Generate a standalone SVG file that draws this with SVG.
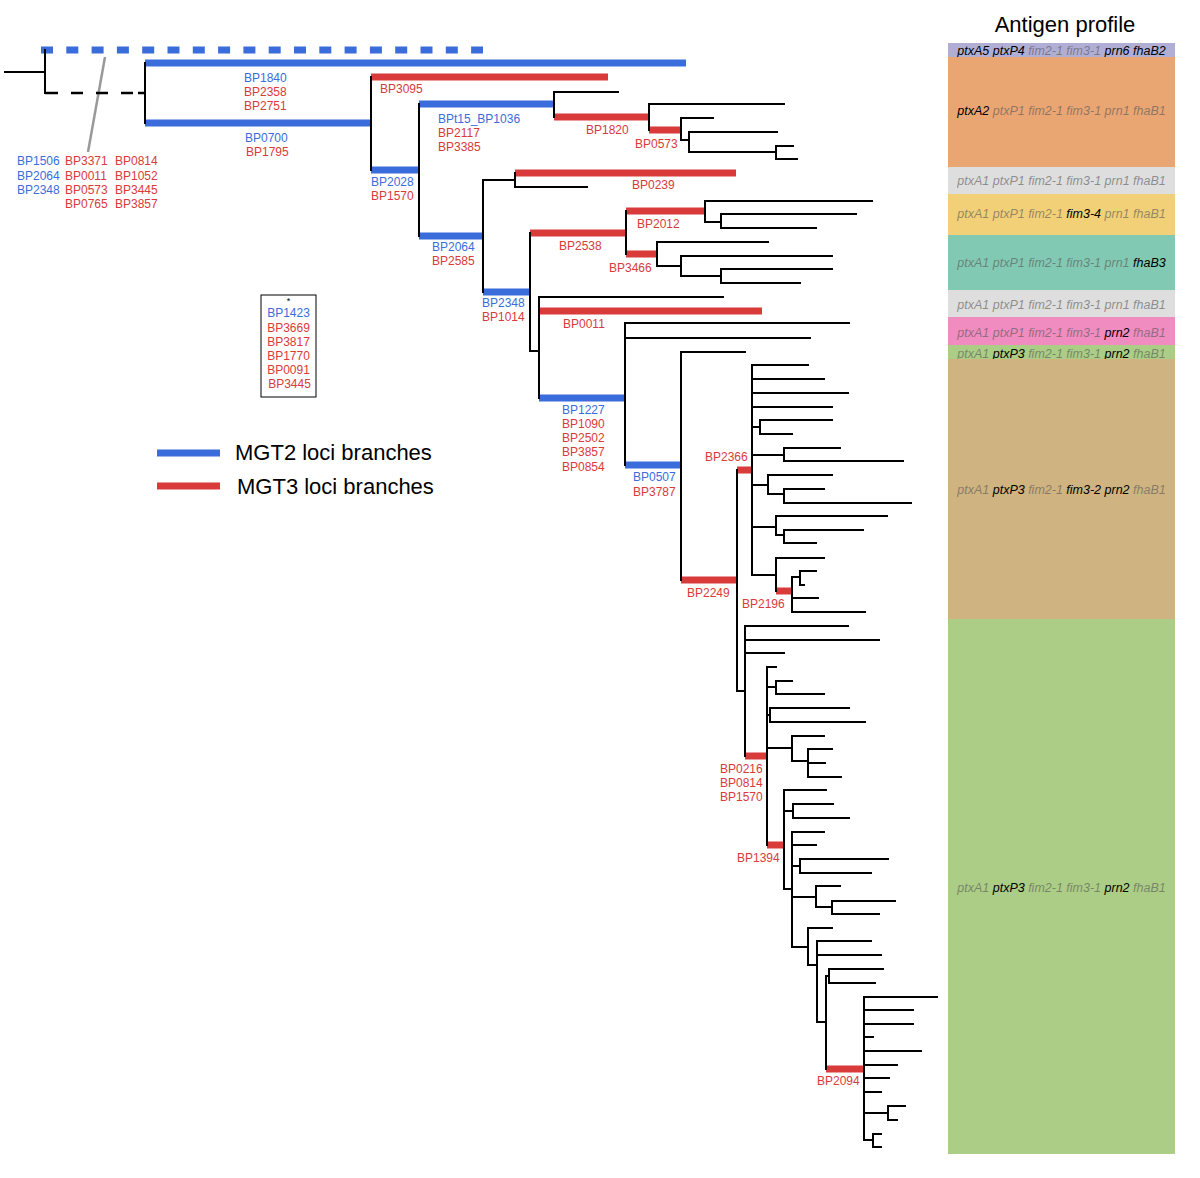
<svg xmlns="http://www.w3.org/2000/svg" width="1200" height="1178" viewBox="0 0 1200 1178">
<style>
.bk{stroke:#000;stroke-width:2;fill:none;stroke-linecap:square}
.bd{stroke:#000;stroke-width:2.5;fill:none;stroke-linecap:butt}
.mb{stroke:#3a6ddb;stroke-width:7;fill:none}
.mr{stroke:#d93a3a;stroke-width:7;fill:none}
text{font-family:"Liberation Sans",Arial,sans-serif}
.l{font-size:12px}
.lb{fill:#3a6ddb}
.lr{fill:#d93a3a}
.ag{font-size:12.5px;font-style:italic;text-anchor:middle}
.g{fill:#555;fill-opacity:0.6}
.k{fill:#000}
.big{font-size:22px;fill:#000}
</style>
<rect width="1200" height="1178" fill="#fff"/>

<g id="antigen-profile">
<text class="big" x="1065" y="32" text-anchor="middle">Antigen profile</text>
<g id="band1"><rect x="948" y="43" width="227" height="14" fill="#b1aed6"/><text class="ag" x="1061.5" y="54.5"><tspan class="k">ptxA5 ptxP4 </tspan><tspan class="g">fim2-1 fim3-1 </tspan><tspan class="k">prn6 fhaB2</tspan></text></g>
<g id="band2"><rect x="948" y="57" width="227" height="110" fill="#e9a673"/><text class="ag" x="1061.5" y="115"><tspan class="k">ptxA2 </tspan><tspan class="g">ptxP1 fim2-1 fim3-1 prn1 fhaB1</tspan></text></g>
<g id="band3"><rect x="948" y="167" width="227" height="27" fill="#dedede"/><text class="ag" x="1061.5" y="184.5"><tspan class="g">ptxA1 ptxP1 fim2-1 fim3-1 prn1 fhaB1</tspan></text></g>
<g id="band4"><rect x="948" y="194" width="227" height="41" fill="#f1d077"/><text class="ag" x="1061.5" y="217.5"><tspan class="g">ptxA1 ptxP1 fim2-1 </tspan><tspan class="k">fim3-4 </tspan><tspan class="g">prn1 fhaB1</tspan></text></g>
<g id="band5"><rect x="948" y="235" width="227" height="55" fill="#82c9b3"/><text class="ag" x="1061.5" y="266.5"><tspan class="g">ptxA1 ptxP1 fim2-1 fim3-1 prn1 </tspan><tspan class="k">fhaB3</tspan></text></g>
<g id="band6"><rect x="948" y="290" width="227" height="27" fill="#dedede"/><text class="ag" x="1061.5" y="308.5"><tspan class="g">ptxA1 ptxP1 fim2-1 fim3-1 prn1 fhaB1</tspan></text></g>
<g id="band7"><rect x="948" y="317" width="227" height="28" fill="#f08cc0"/><text class="ag" x="1061.5" y="336.5"><tspan class="g">ptxA1 ptxP1 fim2-1 fim3-1 </tspan><tspan class="k">prn2 </tspan><tspan class="g">fhaB1</tspan></text></g>
<g id="band8"><rect x="948" y="345" width="227" height="14" fill="#abcd85"/><text class="ag" x="1061.5" y="357.5"><tspan class="g">ptxA1 </tspan><tspan class="k">ptxP3 </tspan><tspan class="g">fim2-1 fim3-1 </tspan><tspan class="k">prn2 </tspan><tspan class="g">fhaB1</tspan></text></g>
<g id="band9"><rect x="948" y="359" width="227" height="260" fill="#cfb381"/><text class="ag" x="1061.5" y="493.5"><tspan class="g">ptxA1 </tspan><tspan class="k">ptxP3 </tspan><tspan class="g">fim2-1 </tspan><tspan class="k">fim3-2 prn2 </tspan><tspan class="g">fhaB1</tspan></text></g>
<g id="band10"><rect x="948" y="619" width="227" height="535" fill="#abcd85"/><text class="ag" x="1061.5" y="891.5"><tspan class="g">ptxA1 </tspan><tspan class="k">ptxP3 </tspan><tspan class="g">fim2-1 fim3-1 </tspan><tspan class="k">prn2 </tspan><tspan class="g">fhaB1</tspan></text></g>
</g>

<g id="connectors">
<path class="mb" stroke-dasharray="12 13.3" d="M41 50H483"/>
<path class="mb" d="M145 63H686M145 123H371M371 170H419M419 104H554M419 236H483M483 292H530M539 398H625M625 465H681"/>
<path class="mr" d="M371 77H608M554 117H649M649 130H681M515 173H736M530 233H626M626 211H705M626 254H657M539 311H762M681 580H737M737 470H752M776 591H792M745 756H767M767 845H784M826 1069H864"/>
<path d="M105 57L88 152" stroke="#999" stroke-width="2.5"/>
<path class="bd" d="M45 93H58M71 93H83M96 93H108M121 93H133M138 93H145"/>
<path class="bk" d="M5 72H45M45 50V93M145 63V123M371 77V170M419 104V236
M554 92V117M554 92H618M649 104V130M649 104H784M681 118V140M681 118H713M681 140H689M689 132V152M689 132H777M689 152H776M776 146V159M776 146H793M776 159H797
M483 180V292M483 180H515M515 173V187M515 187H587M530 233V351M530 351H539
M626 211V254M705 201V222M705 201H872M705 222H721M721 214V228M721 214H856M721 228H816
M657 242V266M657 242H768M657 266H681M681 256V276M681 256H832M681 276H721M721 269V283M721 269H832M721 283H800
M539 297V398M539 297H723M625 323V465M625 323H849M625 338H810
M681 352V580M681 352H745M737 470V691
M752 365V575M752 365H808M752 379H824M752 393H848M752 407H832
M752 427H760M760 420V434M760 420H832M760 434H792
M752 455H784M784 448V461M784 448H840M784 461H903
M752 485H768M768 475V494M768 475H832M768 494H784M784 489V503M784 489H824M784 503H911
M752 527H776M776 516V535M776 516H887M776 535H784M784 530V543M784 530H863M784 543H816
M752 575H776M776 558V591M776 558H824M792 577V612M792 577H800M800 571V585M800 571H816M800 585H804M792 598H818M792 612H865
M737 691H745M745 626V756M745 626H848M745 640H879M745 653H784
M767 667V845M767 667H776M767 687H776M776 681V694M776 681H792M776 694H824
M767 715H770M770 708V722M770 708H849M770 722H865
M767 748H792M792 736V761M792 736H824M792 761H808M808 749V777M808 749H832M808 763H825M808 777H841
M784 790V889M784 790H826M784 811H793M793 804V818M793 804H833M793 818H849
M784 889H792M792 832V947M792 832H824M792 845H816M792 866H800M800 859V873M800 859H888M800 873H871
M792 897H816M816 886V907M816 886H840M816 907H832M832 901V914M832 901H895M832 914H879
M792 947H808M808 928V965M808 928H832M808 965H817M817 941V1022M817 941H871M817 955H881M817 1022H826
M826 976V1069M826 976H829M829 969V983M829 969H883M829 983H875
M864 997V1140M864 997H937M864 1010H913M864 1024H913M864 1037H873M864 1051H921M864 1065H897M864 1078H889M864 1092H881
M864 1113H888M888 1106V1120M888 1106H905M888 1120H897M864 1140H873M873 1134V1147M873 1134H881M873 1147H881"/>
</g>

<g id="branch-labels" class="l">
<g id="lab-root">
<text class="lb" x="17" y="165">BP1506</text><text class="lb" x="17" y="180">BP2064</text><text class="lb" x="17" y="194">BP2348</text>
<text class="lr" x="65" y="165">BP3371</text><text class="lr" x="65" y="180">BP0011</text><text class="lr" x="65" y="194">BP0573</text><text class="lr" x="65" y="208">BP0765</text>
<text class="lr" x="115" y="165">BP0814</text><text class="lr" x="115" y="180">BP1052</text><text class="lr" x="115" y="194">BP3445</text><text class="lr" x="115" y="208">BP3857</text>
</g>
<g id="lab-1840"><text class="lb" x="244" y="82">BP1840</text><text class="lr" x="244" y="96">BP2358</text><text class="lr" x="244" y="110">BP2751</text></g>
<g id="lab-0700"><text class="lb" x="245" y="142">BP0700</text><text class="lr" x="246" y="156">BP1795</text></g>
<g id="lab-3095"><text class="lr" x="380" y="93">BP3095</text></g>
<g id="lab-2028"><text class="lb" x="371" y="186">BP2028</text><text class="lr" x="371" y="200">BP1570</text></g>
<g id="lab-1036"><text class="lb" x="438" y="123">BPt15_BP1036</text><text class="lr" x="438" y="137">BP2117</text><text class="lr" x="438" y="151">BP3385</text></g>
<g id="lab-1820"><text class="lr" x="586" y="134">BP1820</text></g>
<g id="lab-0573"><text class="lr" x="635" y="148">BP0573</text></g>
<g id="lab-2064"><text class="lb" x="432" y="251">BP2064</text><text class="lr" x="432" y="265">BP2585</text></g>
<g id="lab-0239"><text class="lr" x="632" y="189">BP0239</text></g>
<g id="lab-2012"><text class="lr" x="637" y="228">BP2012</text></g>
<g id="lab-2538"><text class="lr" x="559" y="250">BP2538</text></g>
<g id="lab-3466"><text class="lr" x="609" y="272">BP3466</text></g>
<g id="lab-2348"><text class="lb" x="482" y="307">BP2348</text><text class="lr" x="482" y="321">BP1014</text></g>
<g id="lab-0011"><text class="lr" x="563" y="328">BP0011</text></g>
<g id="lab-1227"><text class="lb" x="562" y="414">BP1227</text><text class="lr" x="562" y="428">BP1090</text><text class="lr" x="562" y="442">BP2502</text><text class="lr" x="562" y="456">BP3857</text><text class="lr" x="562" y="471">BP0854</text></g>
<g id="lab-0507"><text class="lb" x="633" y="481">BP0507</text><text class="lr" x="633" y="496">BP3787</text></g>
<g id="lab-2366"><text class="lr" x="705" y="461">BP2366</text></g>
<g id="lab-2249"><text class="lr" x="687" y="597">BP2249</text></g>
<g id="lab-2196"><text class="lr" x="742" y="608">BP2196</text></g>
<g id="lab-0216"><text class="lr" x="720" y="773">BP0216</text><text class="lr" x="720" y="787">BP0814</text><text class="lr" x="720" y="801">BP1570</text></g>
<g id="lab-1394"><text class="lr" x="737" y="862">BP1394</text></g>
<g id="lab-2094"><text class="lr" x="817" y="1085">BP2094</text></g>
</g>

<g id="star-box">
<rect x="261" y="295" width="55" height="102" fill="none" stroke="#000" stroke-width="1"/>
<text x="288.5" y="304" font-size="9" text-anchor="middle" fill="#000">*</text>
<g class="l" text-anchor="middle">
<text class="lb" x="288.5" y="317">BP1423</text>
<text class="lr" x="288.5" y="332">BP3669</text>
<text class="lr" x="288.5" y="346">BP3817</text>
<text class="lr" x="288.5" y="360">BP1770</text>
<text class="lr" x="288.5" y="374">BP0091</text>
<text class="lr" x="289.5" y="388">BP3445</text>
</g>
</g>

<g id="legend">
<g id="legend-mgt2"><path class="mb" d="M157 453H220"/><text class="big" x="235" y="460">MGT2 loci branches</text></g>
<g id="legend-mgt3"><path class="mr" d="M157 486H220"/><text class="big" x="237" y="494">MGT3 loci branches</text></g>
</g>
</svg>
